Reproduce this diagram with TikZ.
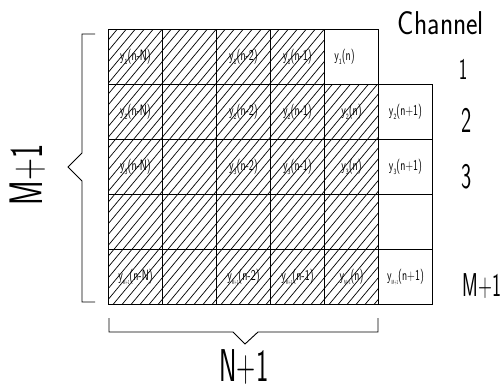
\documentclass[tikz,border=0pt]{standalone}
\usepackage{graphicx}
\newcommand\yv[2]{\scalebox{0.68}[1]{\sffamily\fontsize{15}{15}\selectfont y\raisebox{-4pt}{\fontsize{8}{8}\selectfont #1}(#2)}}
\newcommand\yM[1]{\scalebox{0.68}[1]{\sffamily\fontsize{15}{15}\selectfont y\raisebox{-4pt}{\scalebox{0.7}[1]{\fontsize{6}{6}\selectfont M+1}}(#1)}}
\newcommand\bigsf[3]{\scalebox{#1}[1]{\sffamily\fontsize{#2}{#2}\selectfont #3}}
\begin{document}
\begin{tikzpicture}[x=1pt,y=-1pt,
  cell/.style={draw, line width=1.2pt, minimum width=54pt, minimum height=55pt,
    inner sep=0pt, outer sep=0pt, anchor=north west},
  hatch/.style={line width=0.7pt},
  brace/.style={line width=0.9pt},
  lab/.style={inner sep=0pt}]
\useasboundingbox (0,0) rectangle (502,389);
% hatching
\begin{scope}
  \clip (108.5,29.5) -- (324.5,29.5) -- (324.5,84.5) -- (378.5,84.5) -- (378.5,304.5) -- (108.5,304.5) -- cycle;
  \foreach \i in {0,...,58} \draw[hatch] ({-130+\i*9},304.5) -- ++(229,-275);
\end{scope}
% row 1
\node[cell] (c10) at (108.5,29.5) {\yv{1}{n-N}};
\node[cell] (c11) at (162.5,29.5) {};
\node[cell] (c12) at (216.5,29.5) {\yv{1}{n-2}};
\node[cell] (c13) at (270.5,29.5) {\yv{1}{n-1}};
\node[cell] (c14) at (324.5,29.5) {\hspace*{-14pt}\yv{1}{n}};
% row 2
\node[cell] (c20) at (108.5,84.5) {\yv{2}{n-N}};
\node[cell] (c21) at (162.5,84.5) {};
\node[cell] (c22) at (216.5,84.5) {\yv{2}{n-2}};
\node[cell] (c23) at (270.5,84.5) {\yv{2}{n-1}};
\node[cell] (c24) at (324.5,84.5) {\yv{2}{n}};
\node[cell] (c25) at (378.5,84.5) {\yv{2}{n+1}};
% row 3
\node[cell] (c30) at (108.5,139.5) {\yv{3}{n-N}};
\node[cell] (c31) at (162.5,139.5) {};
\node[cell] (c32) at (216.5,139.5) {\yv{3}{n-2}};
\node[cell] (c33) at (270.5,139.5) {\yv{3}{n-1}};
\node[cell] (c34) at (324.5,139.5) {\yv{3}{n}};
\node[cell] (c35) at (378.5,139.5) {\yv{3}{n+1}};
% row 4
\node[cell] (c40) at (108.5,194.5) {};
\node[cell] (c41) at (162.5,194.5) {};
\node[cell] (c42) at (216.5,194.5) {};
\node[cell] (c43) at (270.5,194.5) {};
\node[cell] (c44) at (324.5,194.5) {};
\node[cell] (c45) at (378.5,194.5) {};
% row 5
\node[cell] (c50) at (108.5,249.5) {\yM{n-N}};
\node[cell] (c51) at (162.5,249.5) {};
\node[cell] (c52) at (216.5,249.5) {\yM{n-2}};
\node[cell] (c53) at (270.5,249.5) {\yM{n-1}};
\node[cell] (c54) at (324.5,249.5) {\yM{n}};
\node[cell] (c55) at (378.5,249.5) {\yM{n+1}};
% channel labels
\node[lab] (chan) at (441,23) {\bigsf{0.83}{33}{Channel}};
\node[lab] (ch1) at (463,69) {\bigsf{0.6}{30}{1}};
\node[lab] (ch2) at (467,120) {\bigsf{0.6}{36}{2}};
\node[lab] (ch3) at (467,177) {\bigsf{0.6}{36}{3}};
\node[lab] (chM) at (482,286) {\bigsf{0.58}{33}{M+1}};
% left brace
\coordinate (lt) at (95,34);
\coordinate (lb) at (95,302);
\draw[brace] (lt) -- (82,34) -- (82,153) -- (68,167) -- (82,181) -- (82,302) -- (lb);
\node[lab, rotate=90] (mlab) at (28,175) {\bigsf{0.64}{47}{M+1}};
% bottom brace
\coordinate (bl) at (109,318);
\coordinate (br) at (378,318);
\draw[brace] (bl) -- (109,332) -- (233,332) -- (245,344) -- (258,332) -- (378,332) -- (br);
\node[lab] (nlab) at (244,367) {\bigsf{0.57}{46}{N+1}};
\end{tikzpicture}
\end{document}
